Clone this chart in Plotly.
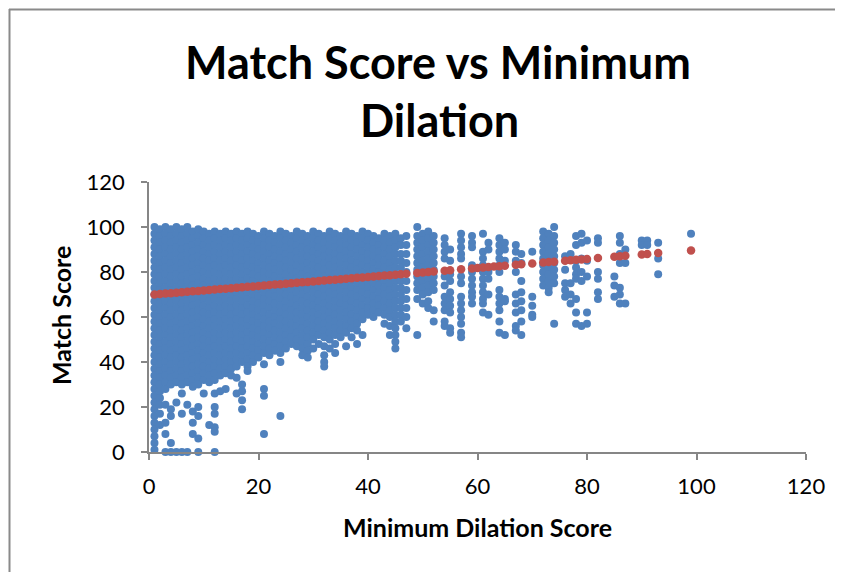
import plotly.graph_objects as go

# ---------------- data ----------------
# Blue series: Match Score values grouped by Minimum Dilation Score (x)
DENSE_COLUMNS = {
    1: [100, 97, 94, 91, 88, 85, 82, 79, 76, 73, 70, 67, 64, 61, 58, 55, 52, 49, 46, 43, 40, 37, 34, 31, 28, 25, 22, 19, 16, 13, 10, 7, 4, 1],
    2: [99, 96, 93, 90, 87, 84, 81, 78, 75, 72, 69, 66, 63, 60, 57, 54, 51, 48, 45, 42, 39, 36, 33, 30, 27, 24, 21, 17, 12],
    3: [100, 97, 94, 91, 88, 85, 82, 79, 76, 73, 70, 67, 64, 61, 58, 55, 52, 49, 46, 43, 40, 37, 34, 31, 28, 21, 13, 8, 0],
    4: [99, 96, 93, 90, 87, 84, 81, 78, 75, 72, 69, 66, 63, 60, 57, 54, 51, 48, 45, 42, 39, 36, 33, 30, 19, 16, 4, 0],
    5: [100, 97, 94, 91, 88, 85, 82, 79, 76, 73, 70, 67, 64, 61, 58, 55, 52, 49, 46, 43, 40, 37, 34, 31, 22, 0],
    6: [99, 96, 93, 90, 87, 84, 81, 78, 75, 72, 69, 66, 63, 60, 57, 54, 51, 48, 45, 42, 39, 36, 33, 30, 26, 17, 0],
    7: [100, 97, 94, 91, 88, 85, 82, 79, 76, 73, 70, 67, 64, 61, 58, 55, 52, 49, 46, 43, 40, 37, 34, 31, 21, 0],
    8: [98, 95, 92, 89, 86, 83, 80, 77, 74, 71, 68, 65, 62, 59, 56, 53, 50, 47, 44, 41, 38, 35, 32, 29, 18, 13, 8],
    9: [99, 96, 93, 90, 87, 84, 81, 78, 75, 72, 69, 66, 63, 60, 57, 54, 51, 48, 45, 42, 39, 36, 33, 30, 20, 16, 6, 0],
    10: [98, 95, 92, 89, 86, 83, 80, 77, 74, 71, 68, 65, 62, 59, 56, 53, 50, 47, 44, 41, 38, 35, 32, 26],
    11: [97, 94, 91, 88, 85, 82, 79, 76, 73, 70, 67, 64, 61, 58, 55, 52, 49, 46, 43, 40, 37, 34, 31, 12],
    12: [98, 95, 92, 89, 86, 83, 80, 77, 74, 71, 68, 65, 62, 59, 56, 53, 50, 47, 44, 41, 38, 35, 32, 26, 20, 17, 11, 9, 0],
    13: [97, 94, 91, 88, 85, 82, 79, 76, 73, 70, 67, 64, 61, 58, 55, 52, 49, 46, 43, 40, 37, 34, 27],
    14: [98, 95, 92, 89, 86, 83, 80, 77, 74, 71, 68, 65, 62, 59, 56, 53, 50, 47, 44, 41, 38, 35, 28],
    15: [97, 94, 91, 88, 85, 82, 79, 76, 73, 70, 67, 64, 61, 58, 55, 52, 49, 46, 43, 40, 37, 34],
    16: [98, 95, 92, 89, 86, 83, 80, 77, 74, 71, 68, 65, 62, 59, 56, 53, 50, 47, 44, 41, 38, 33, 26],
    17: [97, 94, 91, 88, 85, 82, 79, 76, 73, 70, 67, 64, 61, 58, 55, 52, 49, 46, 43, 40, 30, 27, 23, 19],
    18: [98, 95, 92, 89, 86, 83, 80, 77, 74, 71, 68, 65, 62, 59, 56, 53, 50, 47, 44, 41, 38, 36],
    19: [97, 94, 91, 88, 85, 82, 79, 76, 73, 70, 67, 64, 61, 58, 55, 52, 49, 46, 43, 40],
    20: [96, 93, 90, 87, 84, 81, 78, 75, 72, 69, 66, 63, 60, 57, 54, 51, 48, 45, 42],
    21: [98, 95, 92, 89, 86, 83, 80, 77, 74, 71, 68, 65, 62, 59, 56, 53, 50, 47, 44, 39, 28, 25, 8],
    22: [97, 94, 91, 88, 85, 82, 79, 76, 73, 70, 67, 64, 61, 58, 55, 52, 49, 46, 43],
    23: [96, 93, 90, 87, 84, 81, 78, 75, 72, 69, 66, 63, 60, 57, 54, 51, 48, 45],
    24: [98, 95, 92, 89, 86, 83, 80, 77, 74, 71, 68, 65, 62, 59, 56, 53, 50, 47, 44, 40, 16],
    25: [97, 94, 91, 88, 85, 82, 79, 76, 73, 70, 67, 64, 61, 58, 55, 52, 49, 46],
    26: [96, 93, 90, 87, 84, 81, 78, 75, 72, 69, 66, 63, 60, 57, 54, 51, 48],
    27: [98, 95, 92, 89, 86, 83, 80, 77, 74, 71, 68, 65, 62, 59, 56, 53, 50, 47],
    28: [97, 94, 91, 88, 85, 82, 79, 76, 73, 70, 67, 64, 61, 58, 55, 52, 49, 46, 43],
    29: [96, 93, 90, 87, 84, 81, 78, 75, 72, 69, 66, 63, 60, 57, 54, 51, 48, 45, 42],
    30: [98, 95, 92, 89, 86, 83, 80, 77, 74, 71, 68, 65, 62, 59, 56, 53, 50, 46],
    31: [97, 94, 91, 88, 85, 82, 79, 76, 73, 70, 67, 64, 61, 58, 55, 52, 48],
    32: [96, 93, 90, 87, 84, 81, 78, 75, 72, 69, 66, 63, 60, 57, 54, 51, 47, 43, 40, 38],
    33: [98, 95, 92, 89, 86, 83, 80, 77, 74, 71, 68, 65, 62, 59, 56, 53, 50, 46],
    34: [97, 94, 91, 88, 85, 82, 79, 76, 73, 70, 67, 64, 61, 58, 55, 52, 48, 44],
    35: [96, 93, 90, 87, 84, 81, 78, 75, 72, 69, 66, 63, 60, 57, 54, 51],
    36: [98, 95, 92, 89, 86, 83, 80, 77, 74, 71, 68, 65, 62, 59, 56, 53, 47],
    37: [97, 94, 91, 88, 85, 82, 79, 76, 73, 70, 67, 64, 61, 58, 55, 51],
    38: [96, 93, 90, 87, 84, 81, 78, 75, 72, 69, 66, 63, 60, 57, 54, 48],
    39: [98, 95, 92, 89, 86, 83, 80, 77, 74, 71, 68, 65, 62, 59, 52],
    40: [97, 94, 91, 88, 85, 82, 79, 76, 73, 70, 67, 64, 61],
    41: [96, 93, 90, 87, 84, 81, 78, 75, 72, 69, 66, 63, 60],
    42: [95, 92, 89, 86, 83, 80, 77, 74, 71, 68, 65, 62],
    43: [97, 94, 91, 88, 85, 82, 79, 76, 73, 70, 67, 64, 61, 57],
    44: [96, 93, 90, 87, 84, 81, 78, 75, 72, 69, 66, 63, 60, 56, 52],
    45: [97, 94, 91, 88, 85, 82, 79, 76, 73, 70, 67, 64, 61, 58, 55, 52, 49, 46],
}

SPARSE_COLUMNS = {
    46: [95, 92, 88, 85, 82, 79, 76, 73, 70, 67, 64, 61, 58],
    47: [96, 92, 88, 84, 80, 76, 72, 68, 64, 60, 55],
    49: [100, 96, 93, 90, 87, 84, 81, 78, 75, 72, 68, 52],
    50: [97, 94, 91, 88, 85, 82, 79, 76, 73, 70, 66],
    51: [98, 95, 92, 89, 86, 83, 80, 77, 74, 71, 67, 64],
    52: [96, 93, 90, 87, 84, 81, 78, 75, 72, 63, 58],
    54: [95, 92, 89, 86, 78, 74, 69, 66, 63, 58, 56],
    55: [90, 85, 79, 76, 71, 68, 65, 62, 55, 53],
    57: [97, 94, 91, 88, 86, 78, 75, 69, 66, 63, 60, 57, 53, 51],
    59: [96, 93, 91, 83, 80, 77, 74, 71, 69, 66],
    61: [97, 89, 86, 83, 80, 77, 74, 71, 68, 66, 62],
    62: [93, 90, 80, 77, 70, 61],
    64: [95, 92, 89, 86, 83, 80, 72, 69, 66, 63, 58, 53],
    65: [93, 90, 85, 68, 67, 52],
    67: [92, 89, 85, 80, 70, 66, 62, 56, 54],
    68: [88, 84, 76, 71, 67, 63, 58, 52],
    70: [89, 69, 65, 61, 60],
    72: [98, 95, 92, 89, 86, 83, 80, 77, 74],
    73: [97, 94, 91, 88, 85, 82, 79, 76, 73, 71],
    74: [100, 96, 93, 90, 87, 84, 81, 78, 75, 57],
    76: [87, 81, 75, 72, 69],
    77: [88, 75, 70, 66],
    78: [96, 92, 85, 82, 79, 77, 68, 62, 57],
    79: [97, 93, 86, 80, 76, 56],
    80: [94, 85, 78, 62, 57],
    82: [95, 93, 80, 77, 71, 68],
    85: [78, 74, 69],
    86: [96, 93, 88, 84, 73, 70, 66],
    87: [90, 84, 66],
    90: [94, 92],
    91: [94, 92],
    93: [93, 86, 79],
    99: [97],
}

# Red series (fitted values shown as points)
TREND_X = [1, 2, 3, 4, 5, 6, 7, 8, 9, 10, 11, 12, 13, 14, 15, 16, 17, 18, 19, 20,
           21, 22, 23, 24, 25, 26, 27, 28, 29, 30, 31, 32, 33, 34, 35, 36, 37, 38, 39, 40,
           41, 42, 43, 44, 45, 46, 47, 49, 50, 51, 52, 54, 55, 57, 59, 60, 61, 62, 63, 64,
           65, 67, 68, 70, 72, 73, 74, 76, 77, 78, 79, 80, 82, 85, 86, 87, 90, 91, 93, 99]
TREND_Y = [70.0, 70.2, 70.4, 70.6, 70.8, 71.0, 71.2, 71.4, 71.6, 71.8, 72.0, 72.2, 72.4, 72.6, 72.8,
           73.0, 73.2, 73.4, 73.6, 73.8, 74.0, 74.2, 74.4, 74.6, 74.8, 75.0, 75.2, 75.4, 75.6, 75.8,
           76.0, 76.2, 76.4, 76.6, 76.8, 77.0, 77.2, 77.4, 77.6, 77.8, 78.0, 78.2, 78.4, 78.6, 78.8,
           79.0, 79.2, 79.6, 79.8, 80.0, 80.2, 80.6, 80.8, 81.2, 81.6, 81.8, 82.0, 82.2, 82.4, 82.6,
           82.8, 83.2, 83.4, 83.8, 84.2, 84.4, 84.6, 85.0, 85.2, 85.4, 85.6, 85.8, 86.2, 86.8, 87.0,
           87.2, 87.8, 88.0, 88.4, 89.6]

X_TICKS = [0, 20, 40, 60, 80, 100, 120]
Y_TICKS = [0, 20, 40, 60, 80, 100, 120]

TITLE_LINE_1 = "Match Score vs Minimum"
TITLE_LINE_2 = "Dilation"
X_TITLE = "Minimum Dilation Score"
Y_TITLE = "Match Score"

# ---------------- build ----------------
blue_x, blue_y = [], []
for cols in (DENSE_COLUMNS, SPARSE_COLUMNS):
    for xv, ys in cols.items():
        for yv in ys:
            blue_x.append(xv)
            blue_y.append(yv)

# the page body has an 8px margin, so the figure is placed 8px in from the window edges
OFF = 8
W, H = 843 - OFF, 572 - OFF
L, T = 149 - OFF, 182 - OFF
R = W - (806 - OFF)
B = H - (452 - OFF)
PW, PH = W - L - R, H - T - B


def px(xs):
    """screen pixel x -> paper x"""
    return (xs - OFF - L) / PW


def py(ys):
    """screen pixel y -> paper y"""
    return (H - B - (ys - OFF)) / PH


FONT = "Lato"
AXIS_COLOR = "#868686"

fig = go.Figure()
fig.add_trace(go.Scatter(
    x=blue_x, y=blue_y, mode="markers",
    marker=dict(color="#4F81BD", size=8, line=dict(width=0)),
    cliponaxis=False, showlegend=False, hoverinfo="x+y"))
fig.add_trace(go.Scatter(
    x=TREND_X, y=TREND_Y, mode="markers",
    marker=dict(color="#C0504D", size=8.5, line=dict(width=0)),
    cliponaxis=False, showlegend=False, hoverinfo="x+y"))

axis_common = dict(
    range=[0, 120], showgrid=False, zeroline=False,
    showline=True, linecolor=AXIS_COLOR, linewidth=1.5,
    ticks="outside", ticklen=6, tickwidth=1.5, tickcolor=AXIS_COLOR,
    tickfont=dict(family=FONT, size=22, color="black"),
    fixedrange=True,
)
fig.update_xaxes(tickvals=X_TICKS, ticktext=[str(v) for v in X_TICKS],
                 ticklabelstandoff=8, **axis_common)
fig.update_yaxes(tickvals=Y_TICKS, ticktext=[str(v) for v in Y_TICKS],
                 ticklabelstandoff=12, **axis_common)

annotations = [
    dict(text=f"<b>{TITLE_LINE_1}</b>", x=px(438), y=py(62), xref="paper", yref="paper",
         xanchor="center", yanchor="middle", showarrow=False,
         font=dict(family=FONT, size=45, color="black")),
    dict(text=f"<b>{TITLE_LINE_2}</b>", x=px(439), y=py(120), xref="paper", yref="paper",
         xanchor="center", yanchor="middle", showarrow=False,
         font=dict(family=FONT, size=45, color="black")),
    dict(text=f"<b>{X_TITLE}</b>", x=px(477), y=py(527), xref="paper", yref="paper",
         xanchor="center", yanchor="middle", showarrow=False,
         font=dict(family=FONT, size=25, color="black")),
    dict(text=f"<b>{Y_TITLE}</b>", x=px(61), y=py(316), xref="paper", yref="paper",
         xanchor="center", yanchor="middle", showarrow=False, textangle=-90,
         font=dict(family=FONT, size=25, color="black")),
]

shapes = [
    dict(type="line", xref="paper", yref="paper", x0=px(9.5), x1=px(9.5), y0=py(572), y1=py(9),
         line=dict(color="#8a8a8a", width=2)),
    dict(type="line", xref="paper", yref="paper", x0=px(9), x1=px(843), y0=py(9.5), y1=py(9.5),
         line=dict(color="#8a8a8a", width=2)),
]

fig.update_layout(
    width=W, height=H,
    margin=dict(l=L, r=R, t=T, b=B),
    paper_bgcolor="white", plot_bgcolor="white",
    font=dict(family=FONT, color="black"),
    annotations=annotations, shapes=shapes,
    showlegend=False,
)

fig.write_html("out.html")
